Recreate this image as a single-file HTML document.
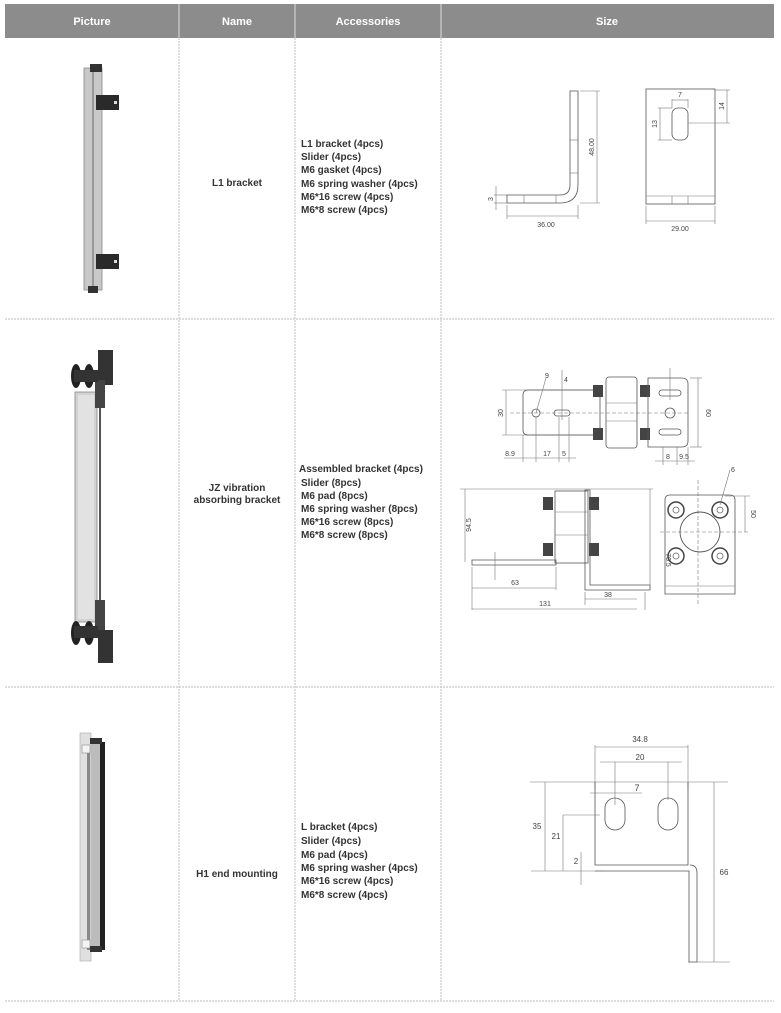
<!DOCTYPE html>
<html><head><meta charset="utf-8"><style>
html,body{margin:0;padding:0;background:#fff;}
svg{display:block;}
text{font-family:"Liberation Sans",sans-serif;}
.h{fill:#fff;font-weight:bold;font-size:11px;text-anchor:middle;}
.t{fill:#333;font-weight:bold;font-size:10px;}
.c{fill:#333;font-weight:bold;font-size:10px;text-anchor:middle;}
.d{fill:none;stroke:#555;stroke-width:0.8;}
.dl{fill:none;stroke:#777;stroke-width:0.6;}
.s{fill:#444;font-size:7px;text-anchor:middle;}
.g{stroke:#c8c8c8;stroke-width:1.2;stroke-dasharray:2 1;}
</style></head><body>
<svg width="781" height="1013" viewBox="0 0 781 1013" xmlns="http://www.w3.org/2000/svg">
<rect x="0" y="0" width="781" height="1013" fill="#fff"/>
<!-- header -->
<rect x="5" y="4" width="769" height="34" fill="#8c8c8c"/>
<line x1="179" y1="4" x2="179" y2="38" stroke="#ddd" stroke-width="1"/>
<line x1="295" y1="4" x2="295" y2="38" stroke="#ddd" stroke-width="1"/>
<line x1="441" y1="4" x2="441" y2="38" stroke="#ddd" stroke-width="1"/>
<text class="h" x="92" y="25">Picture</text>
<text class="h" x="237" y="25">Name</text>
<text class="h" x="368" y="25">Accessories</text>
<text class="h" x="607" y="25">Size</text>
<!-- grid -->
<line class="g" x1="179" y1="38" x2="179" y2="1001"/>
<line class="g" x1="295" y1="38" x2="295" y2="1001"/>
<line class="g" x1="441" y1="38" x2="441" y2="1001"/>
<line class="g" x1="5" y1="319" x2="774" y2="319"/>
<line class="g" x1="5" y1="687" x2="774" y2="687"/>
<line class="g" x1="5" y1="1001" x2="774" y2="1001"/>

<!-- Row 1 text -->
<text class="c" x="237" y="186">L1 bracket</text>
<text class="t" x="301" y="147">L1 bracket (4pcs)</text>
<text class="t" x="301" y="160">Slider (4pcs)</text>
<text class="t" x="301" y="173">M6 gasket (4pcs)</text>
<text class="t" x="301" y="187">M6 spring washer (4pcs)</text>
<text class="t" x="301" y="200">M6*16 screw (4pcs)</text>
<text class="t" x="301" y="213">M6*8 screw (4pcs)</text>

<!-- Row 1 picture -->
<rect x="84" y="68" width="18" height="222" fill="#c9c9c9" stroke="#888" stroke-width="0.8"/>
<rect x="92" y="68" width="2" height="222" fill="#999"/>
<rect x="90" y="64" width="12" height="8" fill="#333"/>
<rect x="88" y="286" width="10" height="7" fill="#333"/>
<rect x="96" y="95" width="23" height="15" fill="#2a2a2a"/>
<rect x="114" y="101" width="3" height="3" fill="#ddd"/>
<rect x="96" y="254" width="23" height="15" fill="#2a2a2a"/>
<rect x="114" y="260" width="3" height="3" fill="#ddd"/>

<!-- Row 1 drawing -->
<g>
<path class="d" d="M570,91 H578 V185 Q578,203 560,203 H507 V195 H560 Q570,195 570,185 Z"/>
<line class="dl" x1="570" y1="140" x2="578" y2="140"/><line class="dl" x1="570" y1="173" x2="578" y2="173"/>
<line class="dl" x1="524" y1="195" x2="524" y2="203"/><line class="dl" x1="556" y1="195" x2="556" y2="203"/>
<line class="dl" x1="580" y1="91" x2="600" y2="91"/><line class="dl" x1="580" y1="203" x2="600" y2="203"/>
<line class="dl" x1="597" y1="91" x2="597" y2="203"/>
<text class="s" transform="translate(594,147) rotate(-90)">48.00</text>
<line class="dl" x1="507" y1="205" x2="507" y2="219"/><line class="dl" x1="578" y1="205" x2="578" y2="219"/>
<line class="dl" x1="507" y1="216" x2="578" y2="216"/>
<text class="s" x="546" y="227">36.00</text>
<line class="dl" x1="496" y1="186" x2="496" y2="210"/><line class="dl" x1="494" y1="195" x2="507" y2="195"/><line class="dl" x1="494" y1="203" x2="507" y2="203"/>
<text class="s" transform="translate(493,199) rotate(-90)">3</text>
<rect class="d" x="646" y="89" width="69" height="115"/>
<line class="dl" x1="646" y1="196" x2="715" y2="196"/>
<line class="dl" x1="672" y1="196" x2="672" y2="204"/><line class="dl" x1="688" y1="196" x2="688" y2="204"/>
<rect class="d" x="672" y="108" width="16" height="32" rx="6"/>
<line class="dl" x1="672" y1="99" x2="672" y2="108"/><line class="dl" x1="688" y1="99" x2="688" y2="108"/>
<line class="dl" x1="672" y1="100" x2="688" y2="100"/>
<text class="s" x="680" y="97">7</text>
<line class="dl" x1="658" y1="108" x2="672" y2="108"/><line class="dl" x1="658" y1="140" x2="672" y2="140"/>
<line class="dl" x1="660" y1="108" x2="660" y2="140"/>
<text class="s" transform="translate(657,124) rotate(-90)">13</text>
<line class="dl" x1="715" y1="90" x2="730" y2="90"/><line class="dl" x1="688" y1="123" x2="730" y2="123"/>
<line class="dl" x1="727" y1="90" x2="727" y2="123"/>
<text class="s" transform="translate(724,106) rotate(-90)">14</text>
<line class="dl" x1="646" y1="206" x2="646" y2="224"/><line class="dl" x1="715" y1="206" x2="715" y2="224"/>
<line class="dl" x1="646" y1="221" x2="715" y2="221"/>
<text class="s" x="680" y="231">29.00</text>
</g>

<!-- Row 2 text -->
<text class="c" x="237" y="491">JZ vibration</text>
<text class="c" x="237" y="503">absorbing bracket</text>
<text class="t" x="299" y="472">Assembled bracket (4pcs)</text>
<text class="t" x="301" y="486">Slider (8pcs)</text>
<text class="t" x="301" y="499">M6 pad (8pcs)</text>
<text class="t" x="301" y="512">M6 spring washer (8pcs)</text>
<text class="t" x="301" y="525">M6*16 screw (8pcs)</text>
<text class="t" x="301" y="538">M6*8 screw (8pcs)</text>

<!-- Row 2 picture -->
<rect x="75" y="392" width="22" height="230" fill="#d2d2d2" stroke="#888" stroke-width="0.8"/>
<rect x="78" y="395" width="16" height="224" fill="#e2e2e2"/>
<line x1="100" y1="400" x2="100" y2="605" stroke="#555" stroke-width="2"/>
<rect x="98" y="350" width="15" height="35" fill="#333"/>
<rect x="95" y="380" width="10" height="28" fill="#444"/>
<ellipse cx="76" cy="376" rx="5" ry="12" fill="#222"/>
<ellipse cx="89" cy="376" rx="5" ry="12" fill="#222"/>
<rect x="74" y="370" width="24" height="12" fill="#333"/>
<rect x="95" y="600" width="10" height="30" fill="#444"/>
<rect x="98" y="630" width="15" height="33" fill="#333"/>
<ellipse cx="76" cy="633" rx="5" ry="12" fill="#222"/>
<ellipse cx="89" cy="633" rx="5" ry="12" fill="#222"/>
<rect x="74" y="626" width="24" height="12" fill="#333"/>

<!-- Row 2 drawing -->
<g>
<line class="dl" x1="502" y1="390" x2="600" y2="390"/><line class="dl" x1="502" y1="435" x2="600" y2="435"/>
<line class="dl" x1="506" y1="390" x2="506" y2="435"/>
<text class="s" transform="translate(503,413) rotate(-90)">30</text>
<path class="d" d="M528,390 H600 V435 H528 Q523,435 523,430 V395 Q523,390 528,390 Z"/>
<line class="dl" x1="510" y1="413" x2="690" y2="413" stroke-dasharray="4 2"/>
<circle class="d" cx="536" cy="413" r="4"/>
<rect class="d" x="554" y="410" width="16" height="6" rx="3"/>
<line class="dl" x1="536" y1="413" x2="546" y2="378"/><text class="s" x="547" y="378">9</text>
<line class="dl" x1="562" y1="370" x2="562" y2="420"/><text class="s" x="566" y="382">4</text>
<line class="dl" x1="536" y1="417" x2="536" y2="462"/><line class="dl" x1="559" y1="417" x2="559" y2="462"/><line class="dl" x1="569" y1="417" x2="569" y2="462"/><line class="dl" x1="523" y1="435" x2="523" y2="462"/>
<line class="dl" x1="504" y1="458" x2="576" y2="458"/>
<text class="s" x="510" y="456">8.9</text><text class="s" x="547" y="456">17</text><text class="s" x="564" y="456">5</text>
<rect x="593" y="385" width="10" height="12" fill="#444"/><rect x="593" y="428" width="10" height="12" fill="#444"/>
<rect class="d" x="606" y="377" width="31" height="71" rx="3"/>
<line class="dl" x1="606" y1="403" x2="637" y2="403"/><line class="dl" x1="606" y1="421" x2="637" y2="421"/>
<rect x="640" y="385" width="10" height="12" fill="#444"/><rect x="640" y="428" width="10" height="12" fill="#444"/>
<path class="d" d="M648,378 H682 Q688,378 688,384 V441 Q688,447 682,447 H648 Z"/>
<rect class="d" x="659" y="390" width="22" height="6" rx="3"/>
<circle class="d" cx="670" cy="413" r="5"/>
<rect class="d" x="659" y="429" width="22" height="6" rx="3"/>
<line class="dl" x1="670" y1="368" x2="670" y2="400"/>
<line class="dl" x1="690" y1="378" x2="702" y2="378"/><line class="dl" x1="690" y1="447" x2="702" y2="447"/>
<line class="dl" x1="698" y1="378" x2="698" y2="447"/>
<text class="s" transform="translate(706,413) rotate(90)">60</text>
<line class="dl" x1="663" y1="447" x2="663" y2="465"/><line class="dl" x1="677" y1="447" x2="677" y2="465"/><line class="dl" x1="688" y1="447" x2="688" y2="465"/>
<line class="dl" x1="655" y1="461" x2="695" y2="461"/>
<text class="s" x="668" y="459">8</text><text class="s" x="684" y="459">9.5</text>

<line class="dl" x1="460" y1="489" x2="653" y2="489"/>
<line class="dl" x1="465" y1="489" x2="465" y2="562"/>
<text class="s" transform="translate(471,525) rotate(-90)">94.5</text>
<path class="d" d="M472,560 H556 V565 H472 Z"/>
<rect class="d" x="555" y="491" width="33" height="72"/>
<line class="dl" x1="555" y1="512" x2="588" y2="512"/><line class="dl" x1="555" y1="535" x2="588" y2="535"/>
<rect x="543" y="497" width="10" height="13" fill="#444"/><rect x="543" y="543" width="10" height="13" fill="#444"/>
<rect x="589" y="497" width="10" height="13" fill="#444"/><rect x="589" y="543" width="10" height="13" fill="#444"/>
<path class="d" d="M585,490 H590 V585 H650 V590 H585 Z"/>
<line class="dl" x1="650" y1="489" x2="650" y2="590"/>
<line class="dl" x1="495" y1="552" x2="495" y2="580"/>
<line class="dl" x1="472" y1="567" x2="472" y2="610"/><line class="dl" x1="556" y1="567" x2="556" y2="590"/>
<line class="dl" x1="472" y1="588" x2="556" y2="588"/><text class="s" x="515" y="585">63</text>
<line class="dl" x1="585" y1="592" x2="585" y2="605"/><line class="dl" x1="645" y1="592" x2="645" y2="610"/>
<line class="dl" x1="585" y1="599" x2="637" y2="599"/><text class="s" x="608" y="597">38</text>
<line class="dl" x1="472" y1="609" x2="637" y2="609"/><text class="s" x="545" y="606">131</text>
<path class="d" d="M670,495 H730 Q735,495 735,500 V594 H665 V500 Q665,495 670,495 Z"/>
<line class="dl" x1="665" y1="586" x2="735" y2="586"/>
<line class="dl" x1="698" y1="480" x2="698" y2="605" stroke-dasharray="4 2"/>
<line class="dl" x1="660" y1="532" x2="750" y2="532" stroke-dasharray="4 2"/>
<circle cx="700" cy="532" r="20" fill="none" stroke="#555" stroke-width="0.9"/>
<g fill="#fff" stroke="#444" stroke-width="1.5">
<circle cx="676" cy="510" r="8"/><circle cx="720" cy="510" r="8"/>
<circle cx="676" cy="556" r="8"/><circle cx="720" cy="556" r="8"/></g>
<g fill="none" stroke="#666" stroke-width="0.8">
<circle cx="676" cy="510" r="3"/><circle cx="720" cy="510" r="3"/>
<circle cx="676" cy="556" r="3"/><circle cx="720" cy="556" r="3"/></g>
<line class="dl" x1="720" y1="505" x2="730" y2="470"/><text class="s" x="733" y="472">6</text>
<line class="dl" x1="725" y1="496" x2="750" y2="496"/><line class="dl" x1="745" y1="496" x2="745" y2="532"/>
<text class="s" transform="translate(751,514) rotate(90)">50</text>
<text class="s" transform="translate(666,560) rotate(90)">70.5</text>
</g>

<!-- Row 3 text -->
<text class="c" x="237" y="877">H1 end mounting</text>
<text class="t" x="301" y="830">L bracket (4pcs)</text>
<text class="t" x="301" y="844">Slider (4pcs)</text>
<text class="t" x="301" y="858">M6 pad (4pcs)</text>
<text class="t" x="301" y="871">M6 spring washer (4pcs)</text>
<text class="t" x="301" y="884">M6*16 screw (4pcs)</text>
<text class="t" x="301" y="898">M6*8 screw (4pcs)</text>

<!-- Row 3 picture -->
<rect x="80" y="733" width="11" height="228" fill="#e0e0e0" stroke="#aaa" stroke-width="0.6"/>
<rect x="87" y="745" width="3" height="205" fill="#888"/>
<rect x="91" y="740" width="10" height="212" fill="#bcbcbc"/>
<rect x="100" y="742" width="5" height="208" fill="#222"/>
<rect x="82" y="745" width="8" height="8" fill="#f4f4f4" stroke="#888" stroke-width="0.6"/>
<rect x="82" y="940" width="8" height="8" fill="#f4f4f4" stroke="#888" stroke-width="0.6"/>
<rect x="90" y="738" width="12" height="6" fill="#333"/>
<rect x="90" y="946" width="12" height="6" fill="#333"/>

<!-- Row 3 drawing -->
<g>
<line class="dl" x1="595" y1="745" x2="595" y2="790"/><line class="dl" x1="688" y1="745" x2="688" y2="790"/>
<line class="dl" x1="595" y1="747" x2="688" y2="747"/><text class="s" x="640" y="742" style="font-size:8px">34.8</text>
<line class="dl" x1="600" y1="762" x2="682" y2="762"/>
<line class="dl" x1="615" y1="762" x2="615" y2="805"/><line class="dl" x1="668" y1="762" x2="668" y2="800"/>
<text class="s" x="640" y="760" style="font-size:8px">20</text>
<line class="dl" x1="530" y1="782" x2="728" y2="782"/>
<path class="d" d="M595,782 V865 H688 V782"/>
<path class="d" d="M595,871 H689 V962 H697 V873 Q697,865 690,865"/>
<line class="dl" x1="688" y1="962" x2="730" y2="962"/>
<rect class="d" x="605" y="798" width="20" height="32" rx="10"/>
<rect class="d" x="658" y="798" width="20" height="32" rx="10"/>
<line class="dl" x1="590" y1="793" x2="642" y2="793"/>
<text class="s" x="637" y="791" style="font-size:9px">7</text>
<line class="dl" x1="531" y1="871" x2="605" y2="871"/>
<line class="dl" x1="545" y1="782" x2="545" y2="871"/>
<text class="s" x="537" y="829" style="font-size:8px">35</text>
<line class="dl" x1="563" y1="815" x2="600" y2="815"/>
<line class="dl" x1="563" y1="815" x2="563" y2="871"/>
<text class="s" x="556" y="839" style="font-size:8px">21</text>
<line class="dl" x1="581" y1="852" x2="581" y2="885"/>
<text class="s" x="576" y="864" style="font-size:8px">2</text>
<line class="dl" x1="714" y1="782" x2="714" y2="962"/>
<text class="s" x="724" y="875" style="font-size:8px">66</text>
</g>
</svg>
</body></html>
